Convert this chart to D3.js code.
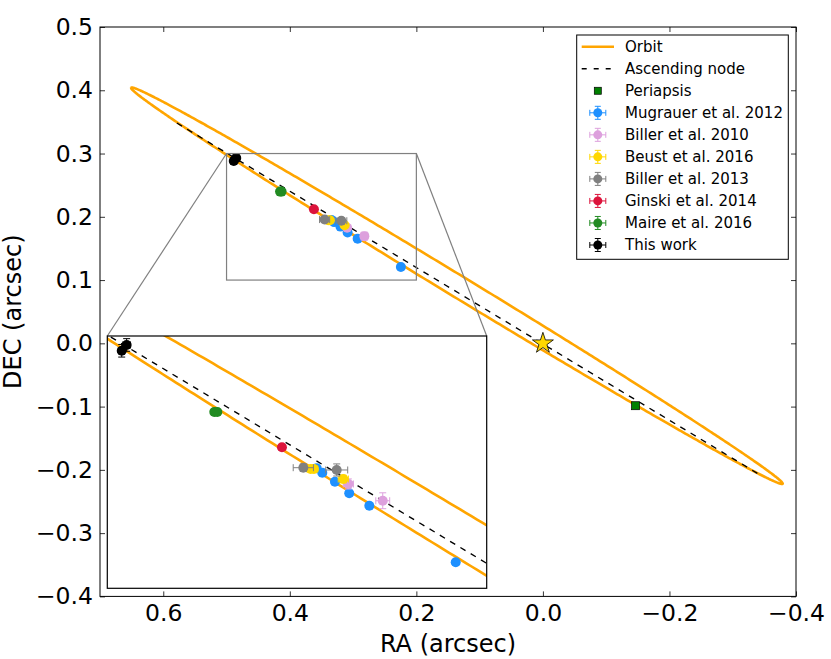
<!DOCTYPE html>
<html>
<head>
<meta charset="utf-8">
<script src="https://cdn.jsdelivr.net/npm/d3@7"></script>
<style>
  body { margin: 0; background: #fff; }
  svg { font-family: "DejaVu Sans", sans-serif; }
</style>
</head>
<body>
<svg id="chart"></svg>
<script>
const width = 831;
const height = 659;

// sky-projected orbit (arcsec): centre, semi-axes, position angle of major axis
const orbitCenter = [0.1359, 0.0910];
const orbitAxes = [0.6025, 0.0172];
const orbitAngle = 31.3;

const nodeLine = [[0.5785, 0.3482], [-0.3408, -0.2066]];
const periapsis = [-0.1464, -0.0986];
const star = [0, 0];

// astrometry, RA / DEC offsets in arcsec with errors
const mugrauerRA = [0.3344, 0.3300, 0.3200, 0.3087, 0.2928, 0.2245];
const mugrauerDEC = [0.1951, 0.1916, 0.1845, 0.1753, 0.1655, 0.1206];
const mugrauerErrRA = [0.002, 0.002, 0.002, 0.002, 0.002, 0.002];
const mugrauerErrDEC = [0.002, 0.002, 0.002, 0.002, 0.002, 0.002];

const biller10RA = [0.3094, 0.2822];
const biller10DEC = [0.1827, 0.1694];
const biller10ErrRA = [0.004, 0.0055];
const biller10ErrDEC = [0.004, 0.0063];

const beustRA = [0.3392, 0.3366, 0.3134];
const beustDEC = [0.1946, 0.1946, 0.1866];
const beustErrRA = [0.003, 0.003, 0.004];
const beustErrDEC = [0.002, 0.002, 0.003];

const biller13RA = [0.3450, 0.3186];
const biller13DEC = [0.1956, 0.1938];
const biller13ErrRA = [0.008, 0.0087];
const biller13ErrDEC = [0.003, 0.0048];

const ginskiRA = [0.3619];
const ginskiDEC = [0.2118];
const ginskiErrRA = [0.002];
const ginskiErrDEC = [0.002];

const maireRA = [0.4154, 0.4130];
const maireDEC = [0.2398, 0.2398];
const maireErrRA = [0.002, 0.002];
const maireErrDEC = [0.002, 0.002];

const thisRA = [0.4886, 0.4847];
const thisDEC = [0.2883, 0.2929];
const thisErrRA = [0.002, 0.003];
const thisErrDEC = [0.005, 0.005];

const xTicks = [0.6, 0.4, 0.2, 0.0, -0.2, -0.4];
const yTicks = [0.5, 0.4, 0.3, 0.2, 0.1, 0.0, -0.1, -0.2, -0.3, -0.4];

// zoom window shown in the inset
const zoomRA = [0.5, 0.2];
const zoomDEC = [0.3, 0.1];

function makeSet(name, color, ra, dec, era, edec) {
    return {
        name: name, color: color,
        points: ra.map((r, i) => ({ ra: r, dec: dec[i], era: era[i], edec: edec[i] }))
    };
}

const datasets = [
    makeSet("Mugrauer et al. 2012", "#1e90ff", mugrauerRA, mugrauerDEC, mugrauerErrRA, mugrauerErrDEC),
    makeSet("Biller et al. 2010", "#dda0dd", biller10RA, biller10DEC, biller10ErrRA, biller10ErrDEC),
    makeSet("Beust et al. 2016", "#ffd700", beustRA, beustDEC, beustErrRA, beustErrDEC),
    makeSet("Biller et al. 2013", "#808080", biller13RA, biller13DEC, biller13ErrRA, biller13ErrDEC),
    makeSet("Ginski et al. 2014", "#dc143c", ginskiRA, ginskiDEC, ginskiErrRA, ginskiErrDEC),
    makeSet("Maire et al. 2016", "#228b22", maireRA, maireDEC, maireErrRA, maireErrDEC),
    makeSet("This work", "#000000", thisRA, thisDEC, thisErrRA, thisErrDEC)
];

// orbit curve from the ellipse parameters
const phi = orbitAngle * Math.PI / 180;
const orbitPts = d3.range(0, 721).map(k => {
    const t = k / 720 * 2 * Math.PI;
    const u = orbitAxes[0] * Math.cos(t), v = orbitAxes[1] * Math.sin(t);
    return [orbitCenter[0] + u * Math.cos(phi) - v * Math.sin(phi),
            orbitCenter[1] + u * Math.sin(phi) + v * Math.cos(phi)];
});

const svg = d3.select("#chart")
    .attr("width", width)
    .attr("height", height);

const plot = { left: 100, right: 796, top: 27, bottom: 596.4 };

const x = d3.scaleLinear().domain([0.7, -0.4]).range([plot.left, plot.right]);
const y = d3.scaleLinear().domain([0.5, -0.4]).range([plot.top, plot.bottom]);

const inset = { left: 107.3, right: 486.7, top: 336, bottom: 588.3 };
const xi = d3.scaleLinear().domain(zoomRA).range([inset.left, inset.right]);
const yi = d3.scaleLinear().domain(zoomDEC).range([inset.top, inset.bottom]);

const defs = svg.append("defs");
defs.append("clipPath").attr("id", "clipMain").append("rect")
    .attr("x", plot.left).attr("y", plot.top)
    .attr("width", plot.right - plot.left).attr("height", plot.bottom - plot.top);
defs.append("clipPath").attr("id", "clipInset").append("rect")
    .attr("x", inset.left).attr("y", inset.top)
    .attr("width", inset.right - inset.left).attr("height", inset.bottom - inset.top);

// draws the orbit, node line and data onto a group with given scales
function drawContent(g, sx, sy) {
    const line = d3.line().x(d => sx(d[0])).y(d => sy(d[1]));

    g.append("path")
        .attr("d", line(orbitPts))
        .attr("fill", "none")
        .attr("stroke", "#ffa500")
        .attr("stroke-width", 2.6);

    g.append("path")
        .attr("d", line(nodeLine))
        .attr("fill", "none")
        .attr("stroke", "#000")
        .attr("stroke-width", 1.35)
        .attr("stroke-dasharray", "6,6");

    g.append("rect")
        .attr("x", sx(periapsis[0]) - 4).attr("y", sy(periapsis[1]) - 4)
        .attr("width", 8).attr("height", 8)
        .attr("fill", "#008000")
        .attr("stroke", "#000").attr("stroke-width", 0.7);

    datasets.forEach(ds => {
        const grp = g.append("g");
        const pts = grp.selectAll("g.pt").data(ds.points).enter().append("g");
        const cap = 3.5;
        pts.append("path")
            .attr("d", d => {
                const cx = sx(d.ra), cy = sy(d.dec);
                const x0 = sx(d.ra + d.era), x1 = sx(d.ra - d.era);
                const y0 = sy(d.dec + d.edec), y1 = sy(d.dec - d.edec);
                return `M${x0},${cy}H${x1}M${cx},${y0}V${y1}` +
                    `M${x0},${cy - cap}V${cy + cap}M${x1},${cy - cap}V${cy + cap}` +
                    `M${cx - cap},${y0}H${cx + cap}M${cx - cap},${y1}H${cx + cap}`;
            })
            .attr("fill", "none")
            .attr("stroke", ds.color)
            .attr("stroke-width", 1);
        pts.append("circle")
            .attr("cx", d => sx(d.ra))
            .attr("cy", d => sy(d.dec))
            .attr("r", 5)
            .attr("fill", ds.color);
    });
}

// main panel
const main = svg.append("g").attr("clip-path", "url(#clipMain)");
drawContent(main, x, y);

main.append("path")
    .attr("d", d3.symbol().type(d3.symbolStar).size(136)())
    .attr("transform", `translate(${x(star[0])},${y(star[1])})`)
    .attr("fill", "#ffd700")
    .attr("stroke", "#000")
    .attr("stroke-width", 0.8);

// axes, ticks pointing inward on all four sides
const fmt = d3.format(".1f");
svg.append("g")
    .attr("transform", `translate(0,${plot.bottom})`)
    .call(d3.axisBottom(x).tickValues(xTicks).tickFormat(fmt).tickSize(-5).tickPadding(8))
    .call(g => g.select(".domain").remove());
svg.append("g")
    .attr("transform", `translate(0,${plot.top})`)
    .call(d3.axisTop(x).tickValues(xTicks).tickFormat("").tickSize(-5))
    .call(g => g.select(".domain").remove());
svg.append("g")
    .attr("transform", `translate(${plot.left},0)`)
    .call(d3.axisLeft(y).tickValues(yTicks).tickFormat(fmt).tickSize(-5).tickPadding(7))
    .call(g => g.select(".domain").remove());
svg.append("g")
    .attr("transform", `translate(${plot.right},0)`)
    .call(d3.axisRight(y).tickValues(yTicks).tickFormat("").tickSize(-5))
    .call(g => g.select(".domain").remove());

svg.selectAll(".tick text")
    .attr("font-size", 23.5)
    .attr("font-family", "DejaVu Sans")
    .attr("fill", "#000");
svg.selectAll(".tick line").attr("stroke", "#000").attr("stroke-width", 0.8);

svg.append("rect")
    .attr("x", plot.left).attr("y", plot.top)
    .attr("width", plot.right - plot.left).attr("height", plot.bottom - plot.top)
    .attr("fill", "none").attr("stroke", "#000").attr("stroke-width", 1);

svg.append("text")
    .attr("x", (plot.left + plot.right) / 2)
    .attr("y", 652)
    .attr("text-anchor", "middle")
    .attr("font-size", 24)
    .text("RA (arcsec)");

svg.append("text")
    .attr("transform", `translate(21,${(plot.top + plot.bottom) / 2}) rotate(-90)`)
    .attr("text-anchor", "middle")
    .attr("font-size", 24)
    .text("DEC (arcsec)");

// zoom rectangle and connectors
svg.append("rect")
    .attr("x", x(zoomRA[0])).attr("y", y(zoomDEC[0]))
    .attr("width", x(zoomRA[1]) - x(zoomRA[0]))
    .attr("height", y(zoomDEC[1]) - y(zoomDEC[0]))
    .attr("fill", "none").attr("stroke", "#808080").attr("stroke-width", 1.2);

svg.append("line")
    .attr("x1", x(zoomRA[0])).attr("y1", y(zoomDEC[0]))
    .attr("x2", inset.left).attr("y2", inset.top)
    .attr("stroke", "#808080").attr("stroke-width", 1.2);
svg.append("line")
    .attr("x1", x(zoomRA[1])).attr("y1", y(zoomDEC[0]))
    .attr("x2", inset.right).attr("y2", inset.top)
    .attr("stroke", "#808080").attr("stroke-width", 1.2);

// inset panel
svg.append("rect")
    .attr("x", inset.left).attr("y", inset.top)
    .attr("width", inset.right - inset.left).attr("height", inset.bottom - inset.top)
    .attr("fill", "#fff");
const ins = svg.append("g").attr("clip-path", "url(#clipInset)");
drawContent(ins, xi, yi);
svg.append("rect")
    .attr("x", inset.left).attr("y", inset.top)
    .attr("width", inset.right - inset.left).attr("height", inset.bottom - inset.top)
    .attr("fill", "none").attr("stroke", "#000").attr("stroke-width", 1.2);

// legend
const legend = svg.append("g");
legend.append("rect")
    .attr("x", 576.7).attr("y", 35)
    .attr("width", 211.6).attr("height", 224.3)
    .attr("fill", "#fff").attr("stroke", "#000").attr("stroke-width", 1);

const legendItems = [
    { name: "Orbit", type: "orbit" },
    { name: "Ascending node", type: "node" },
    { name: "Periapsis", type: "peri" }
].concat(datasets.map(ds => ({ name: ds.name, type: "err", color: ds.color })));

const rowY = d3.scaleLinear().domain([0, legendItems.length - 1]).range([46.7, 245]);
const hx0 = 581.7, hx1 = 614, hxc = 597.8;

legendItems.forEach((item, i) => {
    const cy = rowY(i);
    const g = legend.append("g");
    if (item.type === "orbit") {
        g.append("line").attr("x1", hx0).attr("x2", hx1).attr("y1", cy).attr("y2", cy)
            .attr("stroke", "#ffa500").attr("stroke-width", 2.6);
    } else if (item.type === "node") {
        g.append("line").attr("x1", hx0).attr("x2", hx1).attr("y1", cy).attr("y2", cy)
            .attr("stroke", "#000").attr("stroke-width", 1.35).attr("stroke-dasharray", "5,7");
    } else if (item.type === "peri") {
        g.append("rect").attr("x", hxc - 3.5).attr("y", cy - 3.5).attr("width", 7).attr("height", 7)
            .attr("fill", "#008000").attr("stroke", "#000").attr("stroke-width", 0.7);
    } else {
        const c = 3;
        g.append("path")
            .attr("d", `M${hxc - 8},${cy}H${hxc + 8}M${hxc},${cy - 6.5}V${cy + 6.5}` +
                `M${hxc - 8},${cy - c}V${cy + c}M${hxc + 8},${cy - c}V${cy + c}` +
                `M${hxc - c},${cy - 6.5}H${hxc + c}M${hxc - c},${cy + 6.5}H${hxc + c}`)
            .attr("fill", "none").attr("stroke", item.color).attr("stroke-width", 1);
        g.append("circle").attr("cx", hxc).attr("cy", cy).attr("r", 4.5).attr("fill", item.color);
    }
    g.append("text")
        .attr("x", 625)
        .attr("y", cy)
        .attr("dy", "0.36em")
        .attr("font-size", 15)
        .text(item.name);
});
</script>
</body>
</html>
